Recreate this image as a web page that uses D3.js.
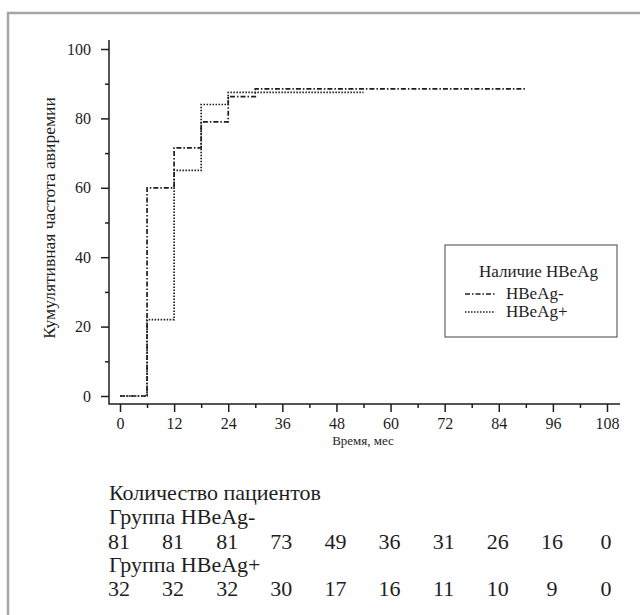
<!DOCTYPE html>
<html>
<head>
<meta charset="utf-8">
<script src="https://cdn.jsdelivr.net/npm/d3@7.9.0/dist/d3.min.js"></script>
<style>
  body { margin: 0; background: #fff; }
  svg text { font-family: "Liberation Serif", "Times New Roman", serif; fill: #1e1e1e; }
</style>
</head>
<body>
<svg id="chart" width="640" height="615"></svg>
<script>
// cumulative incidence curves (step functions)
const negMonths = [0, 6, 12, 18, 24, 30, 90];
const negValues = [0, 60, 71.5, 79, 86.3, 88.5, 88.5];
const posMonths = [0, 6, 12, 18, 24, 54];
const posValues = [0, 22, 65, 84, 87.5, 87.5];

const xTicks = [0, 12, 24, 36, 48, 60, 72, 84, 96, 108];
const yTicks = [0, 20, 40, 60, 80, 100];

// patients at risk
const riskNeg = [81, 81, 81, 73, 49, 36, 31, 26, 16, 0];
const riskPos = [32, 32, 32, 30, 17, 16, 11, 10, 9, 0];

const svg = d3.select('#chart');
const ink = '#1e1e1e';

// grey frame (top + left)
svg.append('path')
  .attr('d', 'M8,615 V13 H640')
  .attr('fill', 'none')
  .attr('stroke', '#a6a6a6')
  .attr('stroke-width', 2.5);

let x = d3.scaleLinear().domain([0, 108]).range([120, 607]);
let y = d3.scaleLinear().domain([0, 100]).range([396, 49]);

const axisX0 = 109;
const axisY0 = 404;

// axis lines
svg.append('path')
  .attr('d', `M${axisX0},40 V${axisY0} H620`)
  .attr('fill', 'none')
  .attr('stroke', ink)
  .attr('stroke-width', 1.5);

// y axis ticks
let yMinor = d3.axisLeft(y).tickValues([10, 30, 50, 70, 90]).tickSize(4).tickFormat('');
let yMajor = d3.axisLeft(y).tickValues(yTicks).tickSize(8).tickPadding(10);

svg.append('g').attr('transform', `translate(${axisX0},0)`).call(yMinor);
svg.append('g').attr('transform', `translate(${axisX0},0)`).call(yMajor);

// x axis ticks
let xMinor = d3.axisBottom(x).tickValues(d3.range(6, 108, 12)).tickSize(4).tickFormat('');
let xMajor = d3.axisBottom(x).tickValues(xTicks).tickSize(8).tickPadding(6);

svg.append('g').attr('transform', `translate(0,${axisY0})`).call(xMinor);
svg.append('g').attr('transform', `translate(0,${axisY0})`).call(xMajor);

svg.selectAll('.domain').remove();
svg.selectAll('.tick line').attr('stroke', ink).attr('stroke-width', 1.5);
svg.selectAll('.tick text').attr('font-size', 16);

// axis titles
svg.append('text')
  .attr('transform', 'translate(55,218) rotate(-90)')
  .attr('text-anchor', 'middle')
  .attr('font-size', 17.5)
  .text('Кумулятивная частота авиремии');

svg.append('text')
  .attr('x', 363)
  .attr('y', 445)
  .attr('text-anchor', 'middle')
  .attr('font-size', 13)
  .text('Время, мес');

// curves
let line = d3.line()
  .x((d) => x(d[0]))
  .y((d) => y(d[1]))
  .curve(d3.curveStepAfter);

const negData = negMonths.map((m, i) => [m, negValues[i]]);
const posData = posMonths.map((m, i) => [m, posValues[i]]);

svg.append('path')
  .attr('d', line(posData))
  .attr('fill', 'none')
  .attr('stroke', ink)
  .attr('stroke-width', 1.7)
  .attr('stroke-dasharray', '1.5,1.5');

svg.append('path')
  .attr('d', line(negData))
  .attr('fill', 'none')
  .attr('stroke', ink)
  .attr('stroke-width', 1.7)
  .attr('stroke-dasharray', '5,2,1.5,2');

// legend
let legend = svg.append('g').attr('transform', 'translate(445,245)');
legend.append('rect')
  .attr('width', 172)
  .attr('height', 92)
  .attr('fill', '#fff')
  .attr('stroke', '#444')
  .attr('stroke-width', 1);
legend.append('text')
  .attr('x', 34).attr('y', 32)
  .attr('font-size', 17)
  .text('Наличие HBeAg');

const legendItems = [
  { label: 'HBeAg-', dash: '5,2,1.5,2' },
  { label: 'HBeAg+', dash: '1.5,1.5' },
];
legendItems.forEach((d, i) => {
  let cy = 49 + i * 18;
  legend.append('line')
    .attr('x1', 20).attr('x2', 50)
    .attr('y1', cy).attr('y2', cy)
    .attr('stroke', ink)
    .attr('stroke-width', 1.5)
    .attr('stroke-dasharray', d.dash);
  legend.append('text')
    .attr('x', 61).attr('y', cy + 5)
    .attr('font-size', 17)
    .text(d.label);
});

// patients at risk table
const tableFont = 22;
svg.append('text').attr('x', 109).attr('y', 500)
  .attr('font-size', tableFont)
  .text('Количество пациентов');
svg.append('text').attr('x', 109).attr('y', 524)
  .attr('font-size', tableFont)
  .text('Группа HBeAg-');
svg.append('text').attr('x', 109).attr('y', 572)
  .attr('font-size', tableFont)
  .text('Группа HBeAg+');

function riskRow(values, baseY) {
  svg.append('g')
    .selectAll('text')
    .data(values)
    .join('text')
    .attr('x', (d, i) => x(xTicks[i]) - 1)
    .attr('y', baseY)
    .attr('text-anchor', 'middle')
    .attr('font-size', tableFont)
    .text((d) => d);
}
riskRow(riskNeg, 549);
riskRow(riskPos, 596);
</script>
</body>
</html>
